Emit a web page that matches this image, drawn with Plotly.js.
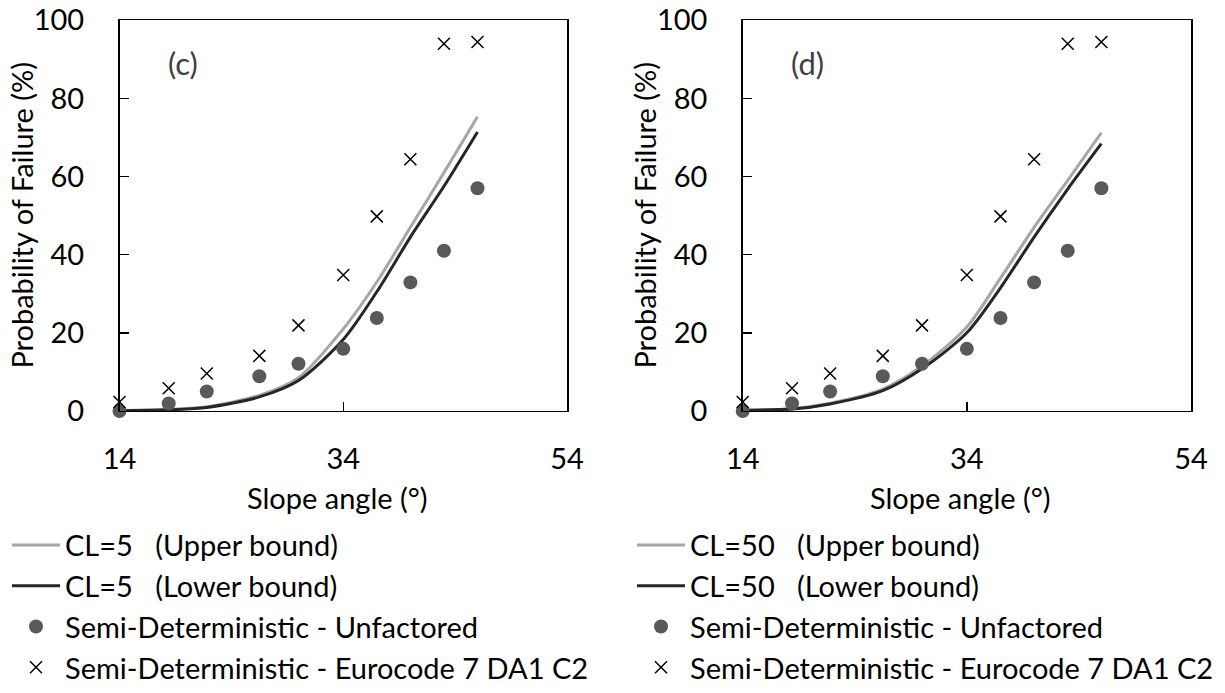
<!DOCTYPE html>
<html>
<head>
<meta charset="utf-8">
<script src="https://cdn.plot.ly/plotly-3.0.1.min.js"></script>
<style>html,body{margin:0;padding:0;background:#fff;}#chart{width:1225px;height:693px;}</style>
</head>
<body>
<div id="chart"></div>
<script>
// Slope angles (degrees)
const slopeAngles = [14, 18.4, 21.8, 26.5, 30, 34, 37, 40, 43, 46];

// Panel (c): CL=5
const cl5Upper = [0.1, 0.4, 1.1, 4.0, 8.5, 21.0, 33.0, 47.0, 61.0, 75.3];
const cl5Lower = [0.1, 0.3, 0.9, 3.6, 7.8, 18.3, 30.5, 44.5, 57.5, 71.4];

// Panel (d): CL=50
const cl50Upper = [0.2, 0.6, 2.0, 5.6, 11.5, 21.5, 34.0, 47.0, 59.0, 71.2];
const cl50Lower = [0.2, 0.5, 1.8, 5.2, 10.8, 20.0, 31.5, 44.5, 56.8, 68.4];

// Semi-deterministic results (same in both panels)
const unfactored = [0, 1.9, 5.0, 8.9, 12.1, 15.9, 23.8, 32.9, 41.0, 57.0];
const eurocode = [2.3, 5.8, 9.6, 14.1, 21.9, 34.8, 49.8, 64.4, 94.0, 94.4];

const xTicks = [14, 34, 54];
const yTicks = [0, 20, 40, 60, 80, 100];

const FONT = 'Lato, "Open Sans", sans-serif';
const FS = 29;
const W = 1225, H = 693;

function makePanel(xa, ya, leg, up, lo, clName) {
  const sfx = xa === 'x' ? '' : '2';
  return [
    {x: slopeAngles, y: up, type: 'scatter', mode: 'lines', name: clName + '\u00a0\u00a0\u00a0(Upper bound)',
     line: {color: '#A6A6A6', width: 3, shape: 'spline', smoothing: 0.8},
     xaxis: xa, yaxis: ya, legend: leg, legendgroup: 'u' + sfx},
    {x: slopeAngles, y: lo, type: 'scatter', mode: 'lines', name: clName + '\u00a0\u00a0\u00a0(Lower bound)',
     line: {color: '#262626', width: 3, shape: 'spline', smoothing: 0.8},
     xaxis: xa, yaxis: ya, legend: leg, legendgroup: 'l' + sfx},
    {x: slopeAngles, y: unfactored, type: 'scatter', mode: 'markers', name: 'Semi-Deterministic - Unfactored',
     marker: {symbol: 'circle', size: 14, color: '#595959'},
     xaxis: xa, yaxis: ya, legend: leg, legendgroup: 'c' + sfx},
    {x: slopeAngles, y: eurocode, type: 'scatter', mode: 'markers', name: 'Semi-Deterministic - Eurocode 7 DA1 C2',
     marker: {symbol: 'x-thin', size: 12, color: '#000', line: {color: '#000', width: 1.5}},
     xaxis: xa, yaxis: ya, legend: leg, legendgroup: 'e' + sfx}
  ];
}

const data = [].concat(
  makePanel('x', 'y', 'legend', cl5Upper, cl5Lower, 'CL=5'),
  makePanel('x2', 'y2', 'legend2', cl50Upper, cl50Lower, 'CL=50')
);
data.forEach(t => { t.cliponaxis = false; });

function xAxis(domain, anchor) {
  return {domain: domain, anchor: anchor, range: [14, 54], tickmode: 'array', tickvals: xTicks,
    ticks: 'inside', ticklen: 9, tickwidth: 1.5, tickcolor: '#000',
    showline: true, linecolor: '#000', linewidth: 1.5, mirror: true,
    showgrid: false, zeroline: false, ticklabelstandoff: 22,
    tickfont: {family: FONT, size: FS, color: '#000'}, fixedrange: true};
}
function yAxis(anchor) {
  return {domain: [1 - 427 / H, 1 - 21 / H], anchor: anchor, range: [0, 100], tickmode: 'array', tickvals: yTicks,
    ticks: 'inside', ticklen: 9, tickwidth: 1.5, tickcolor: '#000',
    showline: true, linecolor: '#000', linewidth: 1.5, mirror: true,
    showgrid: false, zeroline: false, ticklabelstandoff: 28,
    tickfont: {family: FONT, size: FS, color: '#000'}, fixedrange: true};
}

function legendCfg(xpx) {
  return {x: xpx / W, xanchor: 'left', y: 1 - 540 / H, yanchor: 'top',
    font: {family: FONT, size: FS, color: '#000'}, itemwidth: 48, tracegroupgap: 0,
    bgcolor: 'rgba(0,0,0,0)', borderwidth: 0, orientation: 'v', itemclick: false, itemdoubleclick: false};
}

const annText = (txt, xpx, ypx, rot) => ({text: txt, x: xpx / W, y: 1 - ypx / H, xref: 'paper', yref: 'paper',
  showarrow: false, textangle: rot || 0, font: {family: FONT, size: FS, color: '#000'}, xanchor: 'center', yanchor: 'middle'});

const layout = {
  width: W, height: H,
  margin: {l: 0, r: 0, t: 0, b: 0},
  paper_bgcolor: '#fff', plot_bgcolor: '#fff',
  showlegend: true,
  xaxis: xAxis([119.5 / W, 567 / W], 'y'),
  yaxis: yAxis('x'),
  xaxis2: xAxis([742.7 / W, 1191 / W], 'y2'),
  yaxis2: yAxis('x2'),
  legend: legendCfg(7),
  legend2: legendCfg(632),
  annotations: [
    annText('Slope angle (°)', 337, 517),
    annText('Slope angle (°)', 960, 517),
    annText('Probability of Failure (%)', 22, 224, -90),
    annText('Probability of Failure (%)', 645, 224, -90),
    Object.assign(annText('(c)', 183, 65), {font: {family: FONT, size: 31, color: '#404040'}}),
    Object.assign(annText('(d)', 807, 65), {font: {family: FONT, size: 31, color: '#404040'}})
  ]
};

Plotly.newPlot('chart', data, layout, {displayModeBar: false, staticPlot: true});
</script>
</body>
</html>
